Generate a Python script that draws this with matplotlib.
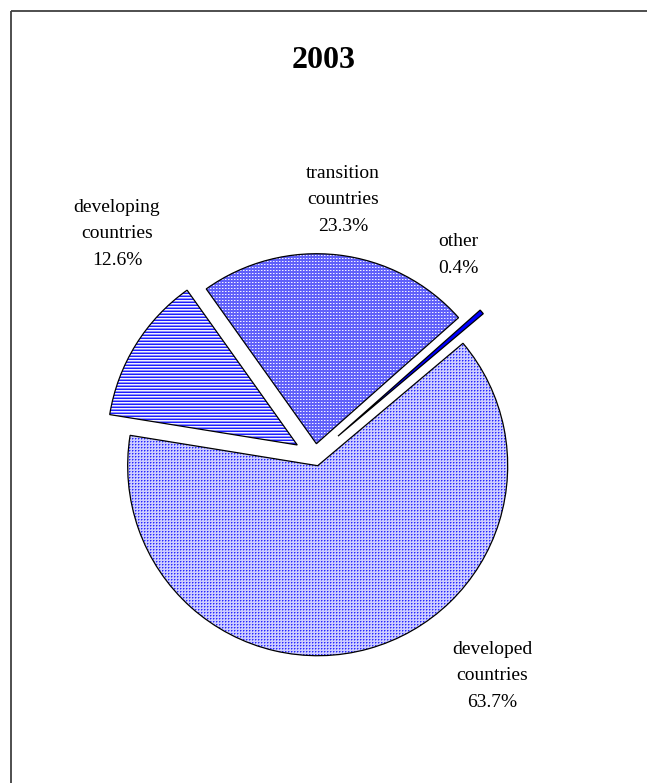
import numpy as np
import matplotlib
matplotlib.use("Agg")
import matplotlib.pyplot as plt

# share of total, 2003
categories = ["developed\ncountries", "other", "transition\ncountries", "developing\ncountries"]
shares = [63.7, 0.4, 23.3, 12.6]
explode = [0.053, 0.16, 0.065, 0.11]
label_pos = [(492, 676), (458, 255), (343, 200), (117, 234)]

W, H = 647, 783
R = 190
plt.rcParams["font.family"] = ["Liberation Serif", "DejaVu Serif"]

fig = plt.figure(figsize=(W / 100, H / 100), dpi=100)
ax = fig.add_axes([0, 0, 1, 1])


def texture(kind):
    yy, xx = np.mgrid[0:H, 0:W]
    img = np.ones((H, W, 3))
    if kind == "dots":
        img[:] = (0.8, 0.8, 1.0)
        img[(xx % 3 == 0) & (yy % 3 == 0)] = (0.15, 0.15, 1.0)
        img[(xx % 3 == 1) & (yy % 3 == 0)] = (0.5, 0.5, 1.0)
        img[(xx % 3 == 0) & (yy % 3 == 1)] = (0.5, 0.5, 1.0)
    elif kind == "checks":
        img[:] = (0.38, 0.38, 0.98)
        img[(xx % 3 == 0) & (yy % 3 == 0)] = (0.95, 0.95, 1.0)
        img[(xx % 3 == 1) & (yy % 3 == 0)] = (0.65, 0.65, 1.0)
    elif kind == "stripes":
        img[:] = (0.12, 0.12, 1.0)
        img[yy % 3 == 0] = (0.95, 0.95, 1.0)
        img[yy % 3 == 1] = (0.55, 0.55, 1.0)
    else:
        img[:] = (0.0, 0.0, 1.0)
    return img


fills = ["dots", "solid", "checks", "stripes"]

# pie offsets are in data units, so scale by the radius
wedges, _ = ax.pie(shares, explode=[e * R for e in explode], startangle=170.8,
                   counterclock=True, center=(315, H - 456), radius=R, frame=True,
                   wedgeprops=dict(facecolor="none", edgecolor="black", linewidth=0.9))
ax.set_xlim(0, W)
ax.set_ylim(0, H)
ax.set_aspect("equal")
ax.axis("off")

for w, kind in zip(wedges, fills):
    im = ax.imshow(texture(kind), extent=(0, W, 0, H), origin="upper",
                   interpolation="nearest", zorder=1)
    im.set_clip_path(w)
    w.set_zorder(2)

for name, pct, (x, y) in zip(categories, shares, label_pos):
    ax.text(x, H - y, f"{name}\n{pct}%", ha="center", va="center",
            fontsize=14, linespacing=1.75, zorder=3)

ax.text(324, H - 61, "2003", ha="center", va="center", fontsize=23,
        fontweight="bold", zorder=3)

# frame lines along top and left
ax.plot([10.5, W], [H - 11, H - 11], color="#404040", lw=1.3, solid_capstyle="butt")
ax.plot([10.5, 10.5], [0, H - 11], color="#404040", lw=1.3, solid_capstyle="butt")

fig.savefig("out.png", dpi=100)
